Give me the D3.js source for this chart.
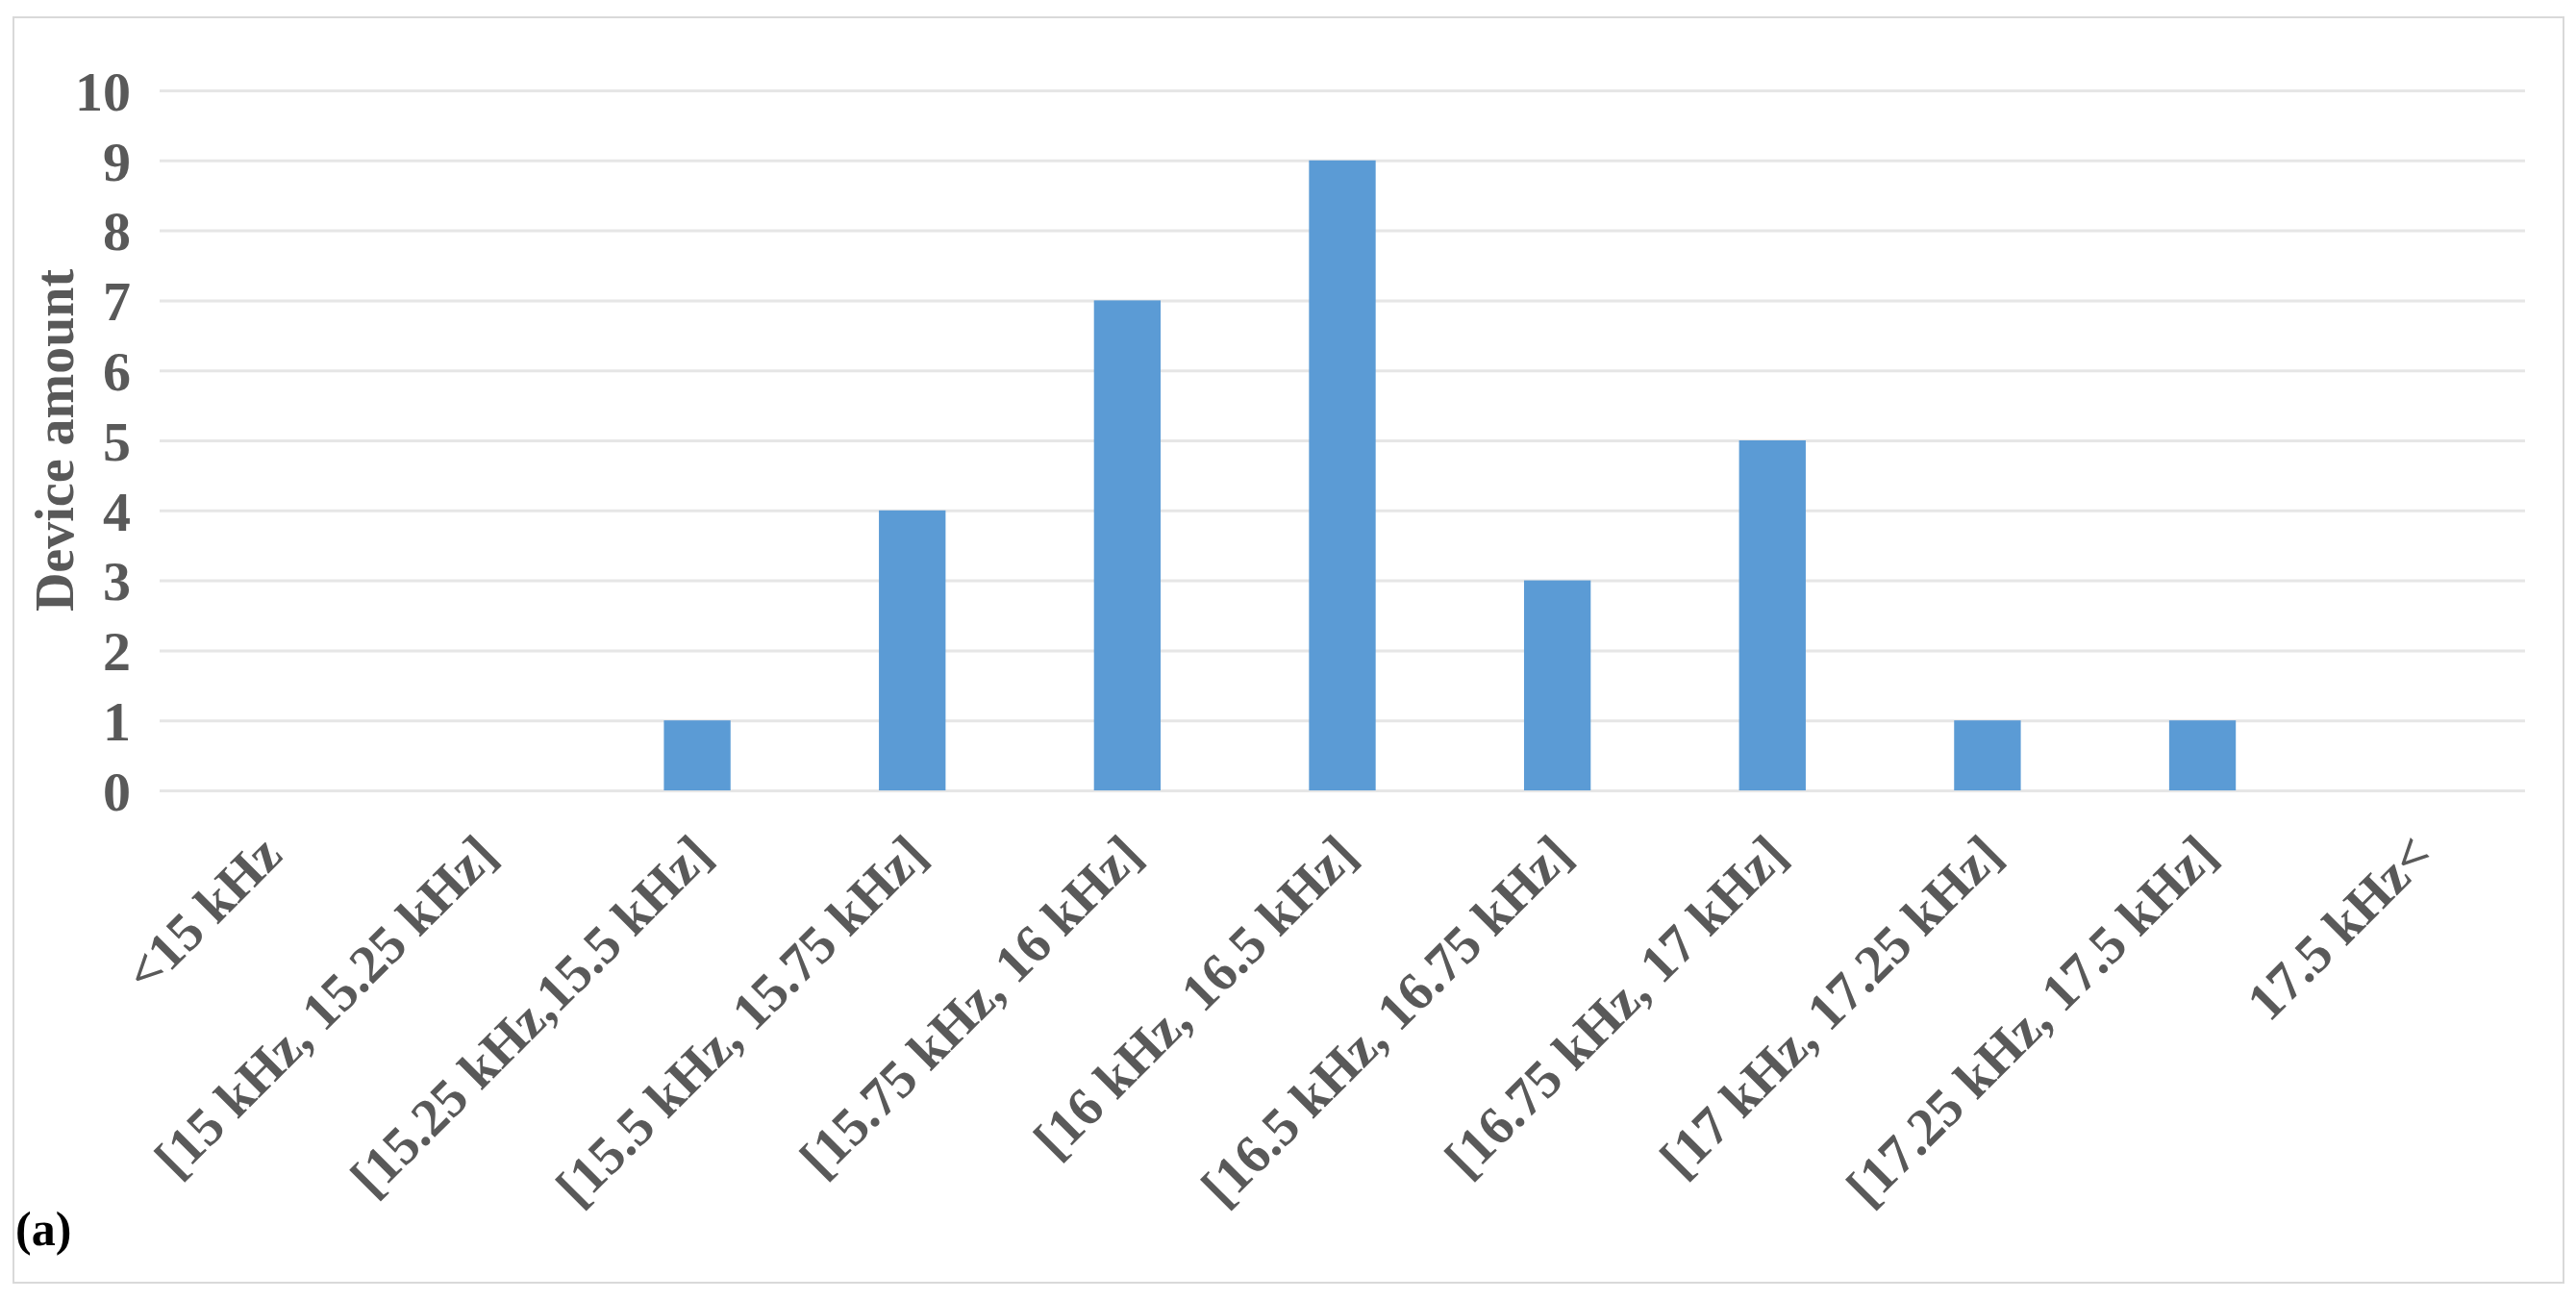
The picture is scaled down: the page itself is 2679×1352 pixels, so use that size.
<!DOCTYPE html>
<html><head><meta charset="utf-8">
<script src="https://cdn.jsdelivr.net/npm/d3@7"></script>
<style>body{margin:0;background:#fff}</style></head>
<body><svg id="c" width="2679" height="1352"></svg>
<script>
const categories = ["<15 kHz","[15 kHz, 15.25 kHz]","[15.25 kHz,15.5 kHz]","[15.5 kHz, 15.75 kHz]","[15.75 kHz, 16 kHz]","[16 kHz, 16.5 kHz]","[16.5 kHz, 16.75 kHz]","[16.75 kHz, 17 kHz]","[17 kHz, 17.25 kHz]","[17.25 kHz, 17.5 kHz]","17.5 kHz<"];
const values = [0,0,1,4,7,9,3,5,1,1,0];
const yTicks = [0,1,2,3,4,5,6,7,8,9,10];

const svg = d3.select("#c");
const m = {l:166, r:2626, t:94, b:822};
svg.append("rect").attr("x",14).attr("y",18).attr("width",2652).attr("height",1316)
  .attr("fill","none").attr("stroke","#d9d9d9").attr("stroke-width",2);
const x = d3.scaleBand().domain(categories).range([m.l,m.r]).paddingInner(0.69).paddingOuter(0.345);
const y = d3.scaleLinear().domain([0,10]).range([m.b,m.t]);
const font = "'Liberation Serif','Times New Roman',serif";

const ya = svg.append("g").attr("transform",`translate(${m.l},0)`)
  .call(d3.axisLeft(y).tickValues(yTicks).tickSize(-(m.r-m.l)).tickPadding(30));
ya.select(".domain").remove();
ya.selectAll(".tick line").attr("stroke","#e6e6e6").attr("stroke-width",3);
ya.selectAll("text").attr("font-family",font).attr("font-weight","bold").attr("font-size",58).attr("fill","#595959").attr("dy","0.35em");

svg.selectAll("rect.bar").data(values).join("rect").attr("class","bar")
  .attr("x",(d,i)=>x(categories[i])).attr("width",x.bandwidth())
  .attr("y",d=>y(d)).attr("height",d=>y(0)-y(d)).attr("fill","#5b9bd5");

const xa = svg.append("g").attr("transform",`translate(0,${m.b})`)
  .call(d3.axisBottom(x).tickSize(0).tickPadding(0));
xa.select(".domain").remove();
xa.selectAll("text").attr("font-family",font).attr("font-weight","bold").attr("font-size",56).attr("fill","#595959")
  .attr("text-anchor","end").attr("dy","0").attr("y",0)
  .attr("transform","translate(18,70) rotate(-45)");

svg.append("text").attr("transform",`translate(76,458) rotate(-90)`).attr("text-anchor","middle")
  .attr("font-family",font).attr("font-weight","bold").attr("font-size",56).attr("fill","#595959").text("Device amount");
svg.append("text").attr("x",16).attr("y",1295).attr("font-family",font).attr("font-weight","bold")
  .attr("font-size",50).attr("fill","#000").text("(a)");
</script></body></html>
